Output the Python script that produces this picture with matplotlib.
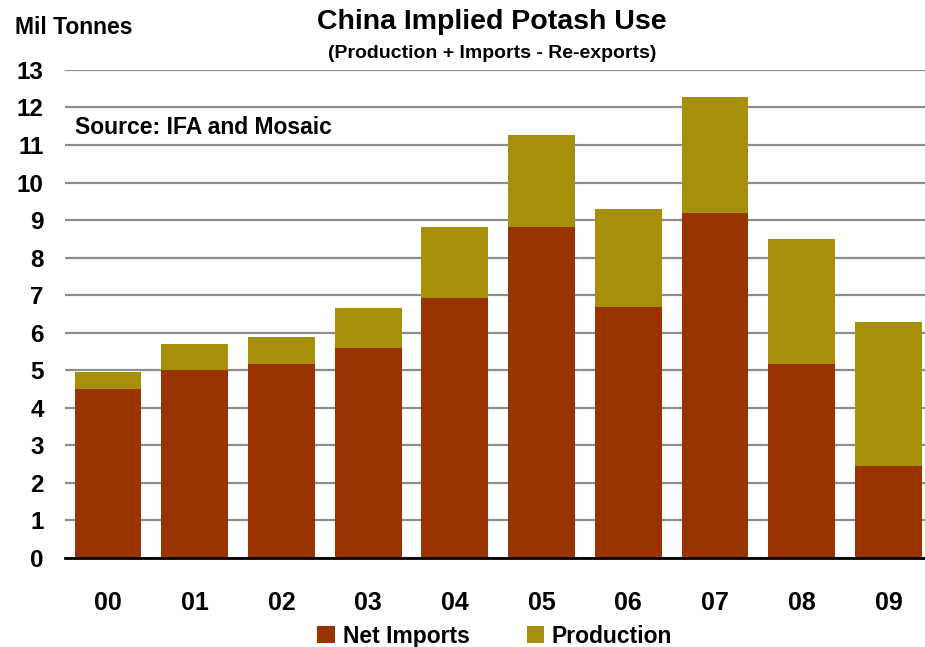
import matplotlib
matplotlib.use("Agg")
import matplotlib.pyplot as plt
import numpy as np

plt.rcParams['font.family'] = ['Liberation Sans', 'DejaVu Sans']
plt.rcParams['font.weight'] = 'bold'

# 年份与数据（百万吨）
years = ["00", "01", "02", "03", "04", "05", "06", "07", "08", "09"]
net_imports = [4.50, 5.01, 5.17, 5.59, 6.93, 8.82, 6.69, 9.19, 5.17, 2.46]
production = [0.45, 0.69, 0.72, 1.07, 1.89, 2.45, 2.61, 3.09, 3.33, 3.83]

c_imp = "#993300"
c_prod = "#A88F0A"

fig = plt.figure(figsize=(9.25, 6.47), dpi=100)
ax = fig.add_axes([0.0698, 0.1376, 0.9377, 0.7543])

x = np.arange(len(years))
ax.bar(x, net_imports, width=0.77, color=c_imp, label="Net Imports", zorder=3)
ax.bar(x, production, width=0.77, bottom=net_imports, color=c_prod,
       label="Production", zorder=3)

ax.set_xlim(-0.5, len(years) - 0.5)
ax.set_ylim(0, 13)
ax.set_yticks(range(0, 14))
ax.set_xticks(x)
ax.set_xticklabels(years)
ax.tick_params(axis='y', length=0, pad=15, labelsize=17.5)
ax.tick_params(axis='x', length=0, pad=24, labelsize=18)
for s in ['top', 'right', 'left']:
    ax.spines[s].set_visible(False)
ax.spines['bottom'].set_color('black')
ax.spines['bottom'].set_linewidth(2)
ax.spines['bottom'].set_zorder(4)
ax.yaxis.grid(True, color='#8c8c8c', linewidth=1.6, zorder=0)

# 标题和注释
fig.text(0.532, 0.966, "China Implied Potash Use", ha='center', va='center',
         fontsize=20.5, fontweight='bold')
fig.text(0.532, 0.918, "(Production + Imports - Re-exports)", ha='center',
         va='center', fontsize=14, fontweight='bold')
fig.text(0.016, 0.957, "Mil Tonnes", ha='left', va='center', fontsize=16.5,
         fontweight='bold')
fig.text(0.081, 0.803, "Source: IFA and Mosaic", ha='left', va='center',
         fontsize=16.5, fontweight='bold')

fig.legend(loc='center', bbox_to_anchor=(0.535, 0.017), ncol=2,
           frameon=False, fontsize=16.5, handlelength=0.75,
           handleheight=0.75, columnspacing=2.5, handletextpad=0.35)

fig.savefig("out.png", dpi=100)
